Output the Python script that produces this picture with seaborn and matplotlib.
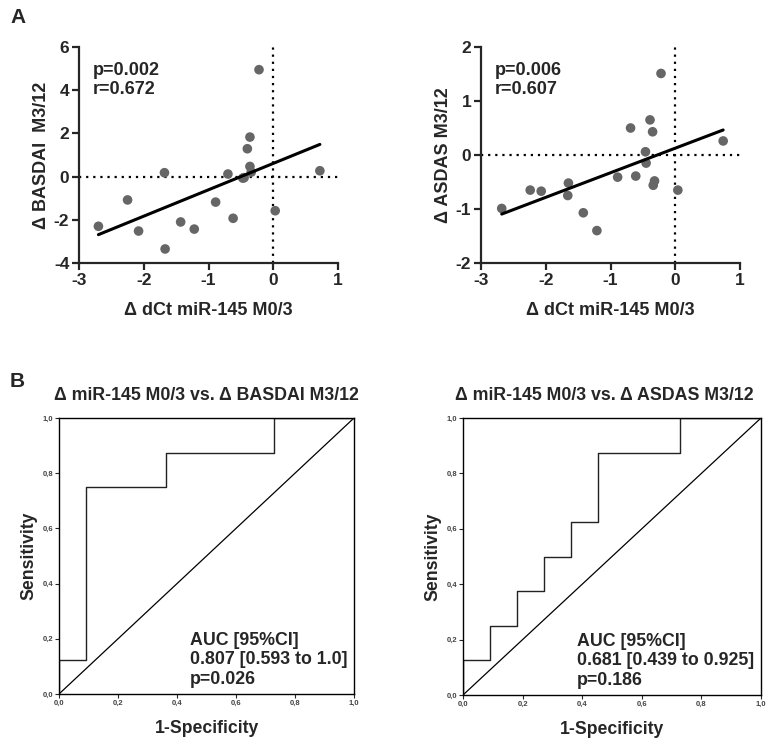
#!/usr/bin/env python
"""
plot.py - miR-145 change vs. BASDAI / ASDAS change (scatter + ROC)
usage: python plot.py
"""
import matplotlib
matplotlib.use("Agg")
import matplotlib.pyplot as plt
import seaborn as sns

# Panel A: delta dCt miR-145 M0/3 vs. delta BASDAI / ASDAS M3/12
basdai_x = [-2.70, -2.25, -2.08, -1.68, -1.67, -1.43, -1.22, -0.89, -0.70, -0.62,
            -0.47, -0.45, -0.40, -0.36, -0.36, -0.34, 0.72, 0.03, -0.22]
basdai_y = [-2.30, -1.08, -2.52, 0.18, -3.35, -2.10, -2.43, -1.18, 0.12, -1.93,
            -0.07, -0.05, 1.29, 1.83, 0.47, 0.21, 0.27, -1.58, 4.95]
asdas_x = [-2.68, -2.24, -2.07, -1.65, -1.66, -1.42, -1.21, -0.89, -0.69, -0.61,
           -0.46, -0.45, -0.39, -0.35, -0.32, -0.34, 0.74, 0.04, -0.22]
asdas_y = [-0.99, -0.65, -0.67, -0.52, -0.75, -1.07, -1.40, -0.41, 0.50, -0.39,
           0.06, -0.15, 0.65, 0.43, -0.48, -0.56, 0.26, -0.65, 1.51]
stats_a = ["p=0.002\nr=0.672", "p=0.006\nr=0.607"]

# Panel B: ROC curves (corner points of the step curve)
roc1_fpr = [0.0, 0.0, 0.0909, 0.0909, 0.3636, 0.3636, 0.7273, 0.7273, 1.0]
roc1_tpr = [0.0, 0.125, 0.125, 0.75, 0.75, 0.875, 0.875, 1.0, 1.0]
roc2_fpr = [0.0, 0.0, 0.0909, 0.0909, 0.1818, 0.1818, 0.2727, 0.2727,
            0.3636, 0.3636, 0.4545, 0.4545, 0.7273, 0.7273, 1.0]
roc2_tpr = [0.0, 0.125, 0.125, 0.25, 0.25, 0.375, 0.375, 0.5,
            0.5, 0.625, 0.625, 0.875, 0.875, 1.0, 1.0]
roc_titles = ["Δ miR-145 M0/3 vs. Δ BASDAI M3/12", "Δ miR-145 M0/3 vs. Δ ASDAS M3/12"]
roc_stats = ["AUC [95%CI]\n0.807 [0.593 to 1.0]\np=0.026",
             "AUC [95%CI]\n0.681 [0.439 to 0.925]\np=0.186"]
roc_ticks = [0.0, 0.2, 0.4, 0.6, 0.8, 1.0]
roc_ticklabels = ["0,0", "0,2", "0,4", "0,6", "0,8", "1,0"]

sns.set_style("ticks")
plt.rcParams['font.family'] = ['Liberation Sans', 'DejaVu Sans']
plt.rcParams['font.weight'] = 'bold'
plt.rcParams['axes.unicode_minus'] = False

fig = plt.figure(figsize=(7.76, 7.47), dpi=100)

W, H = 776, 747
def px_axes(x0, y0, x1, y1):
    return fig.add_axes([x0 / W, 1 - y1 / H, (x1 - x0) / W, (y1 - y0) / H])

# ---- Panel A ----
scatter_specs = [
    (px_axes(79, 47, 338, 263), basdai_x, basdai_y, (-4, 6), [-4, -2, 0, 2, 4, 6],
     "Δ BASDAI  M3/12", stats_a[0]),
    (px_axes(481, 47, 740, 263), asdas_x, asdas_y, (-2, 2), [-2, -1, 0, 1, 2],
     "Δ ASDAS M3/12", stats_a[1]),
]
for ax, xs, ys, ylim, yticks, ylabel, txt in scatter_specs:
    ax.axvline(0, color='black', lw=1.6, ls=(0, (1, 2.2)), zorder=1)
    ax.axhline(0, color='black', lw=1.6, ls=(0, (1, 2.2)), zorder=1)
    sns.scatterplot(x=xs, y=ys, ax=ax, color='#666666', s=48, edgecolor='none', zorder=2)
    sns.regplot(x=xs, y=ys, ax=ax, scatter=False, ci=None,
                line_kws=dict(color='black', lw=2.2, zorder=3))
    ax.set_xlim(-3, 1)
    ax.set_ylim(*ylim)
    ax.set_xticks([-3, -2, -1, 0, 1])
    ax.set_yticks(yticks)
    sns.despine(ax=ax)
    for s in ['left', 'bottom']:
        ax.spines[s].set_linewidth(1.6)
    ax.tick_params(width=1.6, length=5, labelsize=12.5, pad=2)
    for lab in ax.get_xticklabels() + ax.get_yticklabels():
        lab.set_fontweight('bold')
    ax.set_xlabel("Δ dCt miR-145 M0/3", fontsize=13, fontweight='bold', labelpad=10)
    ax.set_ylabel(ylabel, fontsize=13, fontweight='bold', labelpad=3)
    ax.text(0.055, 0.93, txt, transform=ax.transAxes, ha='left', va='top',
            fontsize=13, fontweight='bold', linespacing=1.15)

fig.text(10 / W, 1 - 8 / H, "A", fontsize=15, fontweight='bold', ha='left', va='top')
fig.text(10 / W, 1 - 372 / H, "B", fontsize=15, fontweight='bold', ha='left', va='top')

# ---- Panel B ----
roc_specs = [
    (px_axes(59, 418, 354, 694), roc1_fpr, roc1_tpr, roc_titles[0], roc_stats[0], 0.445, 0.5),
    (px_axes(463, 418, 761, 695), roc2_fpr, roc2_tpr, roc_titles[1], roc_stats[1], 0.381, 0.475),
]
for ax, fpr, tpr, title, txt, tx, title_x in roc_specs:
    sns.lineplot(x=[0, 1], y=[0, 1], ax=ax, color='black', lw=0.9)
    sns.lineplot(x=fpr, y=tpr, ax=ax, sort=False, estimator=None, color='#222222', lw=1.0)
    ax.set_xlim(0, 1)
    ax.set_ylim(0, 1)
    ax.set_xticks(roc_ticks)
    ax.set_yticks(roc_ticks)
    ax.set_xticklabels(roc_ticklabels)
    ax.set_yticklabels(roc_ticklabels)
    for s in ax.spines.values():
        s.set_linewidth(1.0)
        s.set_color('black')
    ax.tick_params(width=0.8, length=3, labelsize=5.5, labelcolor='#444444', pad=1)
    ax.set_xlabel("1-Specificity", fontsize=12.7, fontweight='bold', labelpad=10)
    ax.set_ylabel("Sensitivity", fontsize=12.7, fontweight='bold', labelpad=4)
    ax.set_title(title, fontsize=12.8, fontweight='bold', pad=13, x=title_x)
    ax.text(tx, 0.225, txt, transform=ax.transAxes, ha='left', va='top',
            fontsize=12.8, fontweight='bold', linespacing=1.2)

fig.savefig("out.png", dpi=100)
